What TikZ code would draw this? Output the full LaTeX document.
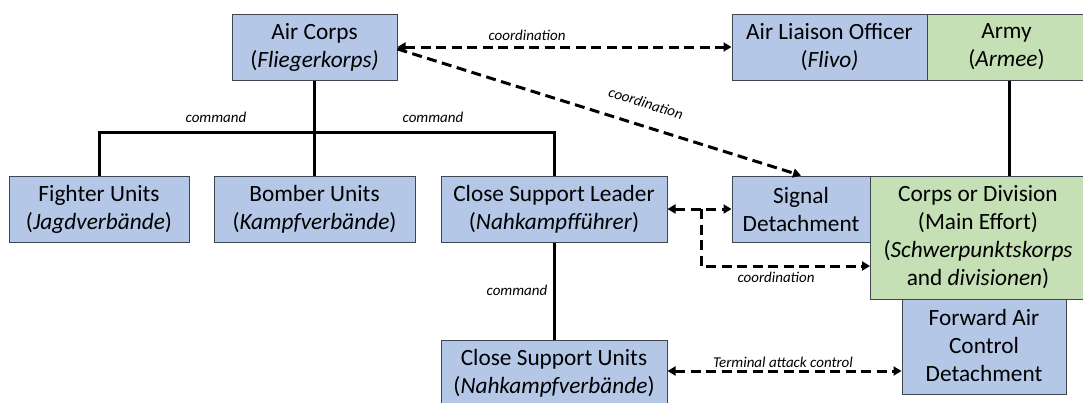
\documentclass[tikz,border=0pt]{standalone}
\usepackage{fontspec}
\setmainfont{Carlito}
\usetikzlibrary{arrows.meta}
\definecolor{boxblue}{RGB}{180,199,231}
\definecolor{boxgreen}{RGB}{197,224,180}
\definecolor{edgegray}{RGB}{62,70,82}
\begin{document}
\begin{tikzpicture}[x=1pt,y=-1pt,
  box/.style={draw=edgegray, line width=1pt, fill=boxblue, align=center, inner sep=0pt,
              font=\fontsize{23.3}{28}\selectfont},
  gbox/.style={box, fill=boxgreen},
  solidline/.style={line width=3pt},
  dashline/.style={line width=3pt, dash pattern=on 10pt off 5.5pt},
  tipend/.style={-{Triangle[length=8pt,width=9pt]}},
  tipboth/.style={{Triangle[length=8pt,width=9pt]}-{Triangle[length=8pt,width=9pt]}},
  lbl/.style={font=\fontsize{15}{18}\selectfont\itshape, inner sep=0pt}]
\useasboundingbox[fill=white] (0,0) rectangle (1083,402);

% boxes
\node[box, minimum width=165pt, minimum height=66pt] (aircorps) at (314.5,47) {Air Corps\\(\textit{Fliegerkorps)}};
\node[box, minimum width=195pt, minimum height=66pt] (alo) at (829.5,47) {Air Liaison Officer\\(\textit{Flivo)}};
\node[gbox, minimum width=159pt, minimum height=66pt] (army) at (1006.5,47) {Army\\(\textit{Armee})};

\node[box, minimum width=180pt, minimum height=66pt] (fighter) at (99,209) {Fighter Units\\(\textit{Jagdverbände})};
\node[box, minimum width=201pt, minimum height=66pt] (bomber) at (314.5,209) {Bomber Units\\(\textit{Kampfverbände})};
\node[box, minimum width=226pt, minimum height=66pt] (csl) at (554,209) {Close Support Leader\\(\textit{Nahkampfführer})};
\node[box, minimum width=138pt, minimum height=66pt] (signal) at (801,209) {Signal\\Detachment};

\node[box, minimum width=164pt, minimum height=97pt] (fac) at (984,345.5) {Forward Air\\Control\\Detachment};
\node[gbox, minimum width=216pt, minimum height=123pt] (corps) at (978,237.5) {Corps or Division\\(Main Effort)\\(\textit{Schwerpunktskorps}\\and \textit{divisionen})};

\node[box, minimum width=226pt, minimum height=66pt] (csu) at (554,373) {Close Support Units\\(\textit{Nahkampfverbände})};

% command lines
\draw[solidline] (aircorps.south) -- (bomber.north);
\draw[solidline] (fighter.north) -- ++(0,-43) -| (csl.north);
\draw[solidline] (csl.south) -- (csu.north);
\draw[solidline] ([xshift=3pt]army.south) -- ([xshift=3pt]army.south |- corps.north);

% coordination lines
\draw[dashline, tipboth] (aircorps.east) -- (alo.west);
\draw[dashline, tipend] ([yshift=-2pt]aircorps.east) -- (signal.north);
\draw[dashline, tipboth] (csl.east) -- (signal.west);
\coordinate (branch) at (701,209);
\coordinate (corpsin) at (870,266);
\draw[dashline, tipend] (branch) |- (corpsin);
\draw[dashline, tipboth] (csu.east |- 0,371) -- (fac.west |- 0,371);

% labels
\node[lbl] (l1) at (216,117) {command};
\node[lbl] (l2) at (433,117) {command};
\node[lbl] (l3) at (527,35) {coordination};
\node[lbl, rotate=-17.5] (l4) at (646,103) {coordination};
\node[lbl] (l5) at (776,277) {coordination};
\node[lbl] (l6) at (517,290) {command};
\node[lbl] (l7) at (783,362) {Terminal attack control};
\end{tikzpicture}
\end{document}
